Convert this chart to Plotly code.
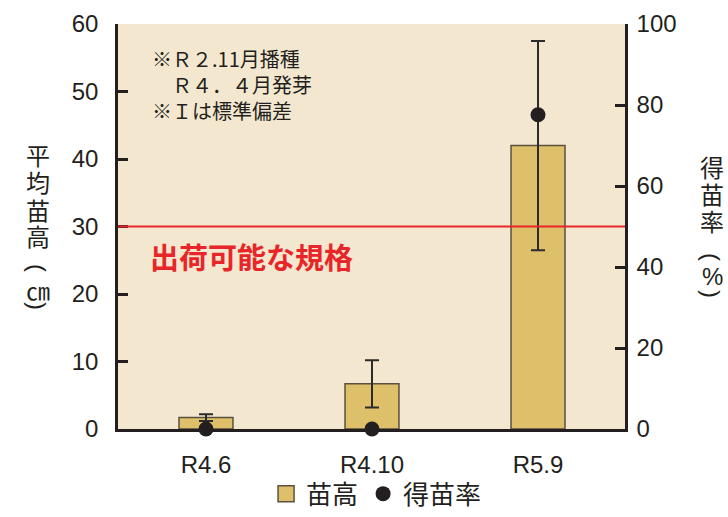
import plotly.graph_objects as go

categories = ["R4.6", "R4.10", "R5.9"]
height_cm = [1.7, 6.7, 42.0]
height_sd = [0.5, 3.5, 15.5]
rate_pct = [0.0, 0.0, 77.6]
standard_line = 30

JP = "Noto Sans CJK JP"
NUM = "Liberation Sans, Arial"
INK = "#231F20"
BAR = "#DFC06A"
BAR_EDGE = "#5A5040"

W, H = 728, 517
ML, MR, MT, MB = 118, 103, 24, 88
PW, PH = W - ML - MR, H - MT - MB

def px_x(x):
    return (x - ML) / PW

def px_y(y):
    return (H - MB - y) / PH

fig = go.Figure()
fig.add_trace(go.Bar(
    x=categories, y=height_cm, name="苗高", width=0.325, showlegend=False,
    marker=dict(color=BAR, line=dict(color=BAR_EDGE, width=1.5)),
    error_y=dict(type="data", array=height_sd, visible=True, color="#2B2B2B", thickness=2, width=7),
    yaxis="y",
))
# legend entries
fig.add_trace(go.Scatter(
    x=[None], y=[None], name="苗高", mode="markers",
    marker=dict(symbol="square", color=BAR, size=20, line=dict(color=BAR_EDGE, width=1.5)),
))
fig.add_trace(go.Scatter(
    x=categories, y=rate_pct, name="得苗率", mode="markers",
    marker=dict(color=INK, size=15), yaxis="y2", cliponaxis=False,
))

fig.add_shape(type="line", xref="paper", x0=0, x1=1, yref="y", y0=standard_line, y1=standard_line,
              line=dict(color="#E8262A", width=2))

fig.add_annotation(xref="paper", yref="y", x=px_x(148), y=25.6, text="<b>出荷可能な規格</b>", showarrow=False,
                   xanchor="left", yanchor="middle", font=dict(family=JP, size=29, color="#E8262A"))
fig.add_annotation(xref="paper", yref="paper", x=px_x(150), y=px_y(42),
                   text="※Ｒ２.11月播種<br>　Ｒ４．４月発芽<br>※Ｉは標準偏差", showarrow=False,
                   xanchor="left", yanchor="top", align="left",
                   font=dict(family=JP, size=20, color=INK))

def vertical_title(chars, ys, xpx):
    for ch, yy in zip(chars, ys):
        angle = 0
        fam, size = JP, 24
        if ch in "()":
            angle, fam, size = 90, NUM, 24
        elif ch == "%":
            fam = NUM
        fig.add_annotation(xref="paper", yref="paper", x=px_x(xpx), y=px_y(yy), text=ch, showarrow=False,
                           xanchor="center", yanchor="middle", textangle=angle,
                           font=dict(family=fam, size=size, color=INK))

vertical_title(["平", "均", "苗", "高", "(", "㎝", ")"], [154, 181, 209, 235, 268, 289, 306], 38)
vertical_title(["得", "苗", "率", "(", "%", ")"], [166, 193, 220, 257, 276, 294], 712)

axis_line = dict(showline=True, linecolor=INK, linewidth=2.5)
fig.update_layout(
    width=W, height=H,
    margin=dict(l=ML, r=MR, t=MT, b=MB, autoexpand=False),
    paper_bgcolor="white", plot_bgcolor="#F3E8CF",
    showlegend=True,
    legend=dict(orientation="h", x=0.51, xanchor="center", yref="container", y=0.045, yanchor="middle",
                font=dict(family=JP, size=26, color=INK), itemwidth=30,
                bgcolor="rgba(0,0,0,0)"),
    xaxis=dict(range=[-0.53, 2.524], ticks="", showgrid=False, zeroline=False,
               tickfont=dict(family=NUM, size=24, color=INK), ticklabelstandoff=12,
               layer="below traces", **axis_line),
    yaxis=dict(range=[0, 60], dtick=10, ticks="inside", ticklen=10, tickwidth=2.5, tickcolor=INK,
               showgrid=False, zeroline=False, tickfont=dict(family=NUM, size=24, color=INK),
               ticklabelstandoff=12, layer="below traces", **axis_line),
    yaxis2=dict(range=[0, 100], dtick=20, overlaying="y", side="right", ticks="inside", ticklen=10,
                tickwidth=2.5, tickcolor=INK, showgrid=False, zeroline=False,
                tickfont=dict(family=NUM, size=24, color=INK), ticklabelstandoff=4,
                layer="below traces", **axis_line),
)
fig.write_html("out.html")
